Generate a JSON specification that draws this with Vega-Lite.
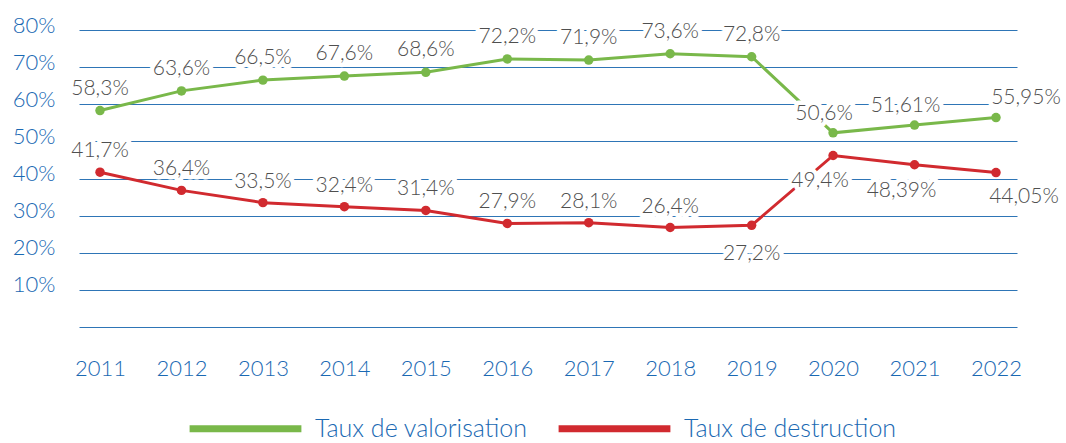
{
  "$schema": "https://vega.github.io/schema/vega-lite/v6.json",
  "width": 938,
  "height": 297,
  "autosize": {"type": "none"},
  "padding": {"left": 79, "top": 30, "right": 49, "bottom": 116},
  "background": "white",
  "config": {"view": {"stroke": null}, "font": "Lato", "text": {"font": "Lato", "fontSize": 21, "fontWeight": 300}},
  "data": {"values": [
    {"year": "2011", "serie": "Taux de valorisation", "value": 58.3, "label": "58,3%"},
    {"year": "2012", "serie": "Taux de valorisation", "value": 63.6, "label": "63,6%"},
    {"year": "2013", "serie": "Taux de valorisation", "value": 66.5, "label": "66,5%"},
    {"year": "2014", "serie": "Taux de valorisation", "value": 67.6, "label": "67,6%"},
    {"year": "2015", "serie": "Taux de valorisation", "value": 68.6, "label": "68,6%"},
    {"year": "2016", "serie": "Taux de valorisation", "value": 72.2, "label": "72,2%"},
    {"year": "2017", "serie": "Taux de valorisation", "value": 71.9, "label": "71,9%"},
    {"year": "2018", "serie": "Taux de valorisation", "value": 73.6, "label": "73,6%"},
    {"year": "2019", "serie": "Taux de valorisation", "value": 72.8, "label": "72,8%"},
    {"year": "2020", "serie": "Taux de valorisation", "value": 52.3, "label": "50,6%"},
    {"year": "2021", "serie": "Taux de valorisation", "value": 54.4, "label": "51,61%"},
    {"year": "2022", "serie": "Taux de valorisation", "value": 56.4, "label": "55,95%"},
    {"year": "2011", "serie": "Taux de destruction", "value": 41.7, "label": "41,7%"},
    {"year": "2012", "serie": "Taux de destruction", "value": 36.8, "label": "36,4%"},
    {"year": "2013", "serie": "Taux de destruction", "value": 33.5, "label": "33,5%"},
    {"year": "2014", "serie": "Taux de destruction", "value": 32.4, "label": "32,4%"},
    {"year": "2015", "serie": "Taux de destruction", "value": 31.4, "label": "31,4%"},
    {"year": "2016", "serie": "Taux de destruction", "value": 27.9, "label": "27,9%"},
    {"year": "2017", "serie": "Taux de destruction", "value": 28.1, "label": "28,1%"},
    {"year": "2018", "serie": "Taux de destruction", "value": 26.8, "label": "26,4%"},
    {"year": "2019", "serie": "Taux de destruction", "value": 27.4, "label": "27,2%"},
    {"year": "2020", "serie": "Taux de destruction", "value": 46.2, "label": "49,4%"},
    {"year": "2021", "serie": "Taux de destruction", "value": 43.7, "label": "48,39%"},
    {"year": "2022", "serie": "Taux de destruction", "value": 41.6, "label": "44,05%"}
  ]},
  "encoding": {
    "x": {"field": "year", "type": "ordinal", "scale": {"type": "point", "padding": 0.258},
      "axis": {"title": null, "labelAngle": 0, "domain": false, "ticks": false, "grid": false, "labelPadding": 31, "labelFontSize": 22, "labelFontWeight": 300, "labelColor": "#1a69b3", "labelFont": "Lato"}},
    "y": {"field": "value", "type": "quantitative", "scale": {"domain": [0, 80], "nice": false},
      "axis": {"title": null, "values": [0, 10, 20, 30, 40, 50, 60, 70, 80], "labelExpr": "datum.value == 0 ? '' : datum.value + '%'", "domain": false, "ticks": false, "labelPadding": 24, "labelFontSize": 22, "labelFontWeight": 300, "labelColor": "#1a69b3", "labelFont": "Lato", "labelBaseline": "alphabetic", "labelOffset": 2, "gridColor": "#2e75b6", "gridWidth": 1}}
  },
  "layer": [
    {"mark": {"type": "line", "strokeWidth": 3},
     "encoding": {"color": {"field": "serie", "type": "nominal",
       "scale": {"domain": ["Taux de valorisation", "Taux de destruction"], "range": ["#79b84a", "#d12a2f"]},
       "legend": {"orient": "none", "legendX": 107, "legendY": 339, "direction": "horizontal", "title": null, "symbolType": "stroke", "symbolStrokeWidth": 7, "symbolSize": 12500, "labelFontSize": 25, "labelFontWeight": 300, "labelColor": "#1a69b3", "labelFont": "Lato", "labelLimit": 400, "columnPadding": 16, "labelOffset": 10}}}},
    {"mark": {"type": "circle", "size": 90, "opacity": 1},
     "encoding": {"color": {"field": "serie", "type": "nominal", "legend": null}}},
    {"transform": [{"filter": "datum.serie == 'Taux de valorisation' && datum.year <= '2019'"}],
     "encoding": {"text": {"field": "label"}},
     "layer": [
       {"mark": {"type": "text", "dy": -22, "fill": "white", "stroke": "white", "strokeWidth": 9, "strokeJoin": "round"}},
       {"mark": {"type": "text", "dy": -22, "fill": "#4f4f4f"}}
     ]},
    {"transform": [{"filter": "datum.serie == 'Taux de valorisation' && (datum.year == '2020' || datum.year == '2021')"}],
     "encoding": {"text": {"field": "label"}},
     "layer": [
       {"mark": {"type": "text", "dx": -9, "dy": -19, "fill": "white", "stroke": "white", "strokeWidth": 9, "strokeJoin": "round"}},
       {"mark": {"type": "text", "dx": -9, "dy": -19, "fill": "#4f4f4f"}}
     ]},
    {"transform": [{"filter": "datum.serie == 'Taux de valorisation' && datum.year == '2022'"}],
     "encoding": {"text": {"field": "label"}},
     "layer": [
       {"mark": {"type": "text", "dx": 30, "dy": -20, "fill": "white", "stroke": "white", "strokeWidth": 9, "strokeJoin": "round"}},
       {"mark": {"type": "text", "dx": 30, "dy": -20, "fill": "#4f4f4f"}}
     ]},
    {"transform": [{"filter": "datum.serie == 'Taux de destruction' && datum.year <= '2018'"}],
     "encoding": {"text": {"field": "label"}},
     "layer": [
       {"mark": {"type": "text", "dy": -21, "fill": "white", "stroke": "white", "strokeWidth": 9, "strokeJoin": "round"}},
       {"mark": {"type": "text", "dy": -21, "fill": "#4f4f4f"}}
     ]},
    {"transform": [{"filter": "datum.serie == 'Taux de destruction' && datum.year == '2019'"}],
     "encoding": {"text": {"field": "label"}},
     "layer": [
       {"mark": {"type": "text", "dy": 29, "fill": "white", "stroke": "white", "strokeWidth": 9, "strokeJoin": "round"}},
       {"mark": {"type": "text", "dy": 29, "fill": "#4f4f4f"}}
     ]},
    {"transform": [{"filter": "datum.serie == 'Taux de destruction' && (datum.year == '2020' || datum.year == '2021')"}],
     "encoding": {"text": {"field": "label"}},
     "layer": [
       {"mark": {"type": "text", "dx": -13, "dy": 26, "fill": "white", "stroke": "white", "strokeWidth": 9, "strokeJoin": "round"}},
       {"mark": {"type": "text", "dx": -13, "dy": 26, "fill": "#4f4f4f"}}
     ]},
    {"transform": [{"filter": "datum.serie == 'Taux de destruction' && datum.year == '2022'"}],
     "encoding": {"text": {"field": "label"}},
     "layer": [
       {"mark": {"type": "text", "dx": 28, "dy": 24, "fill": "white", "stroke": "white", "strokeWidth": 9, "strokeJoin": "round"}},
       {"mark": {"type": "text", "dx": 28, "dy": 24, "fill": "#4f4f4f"}}
     ]}
  ]
}
